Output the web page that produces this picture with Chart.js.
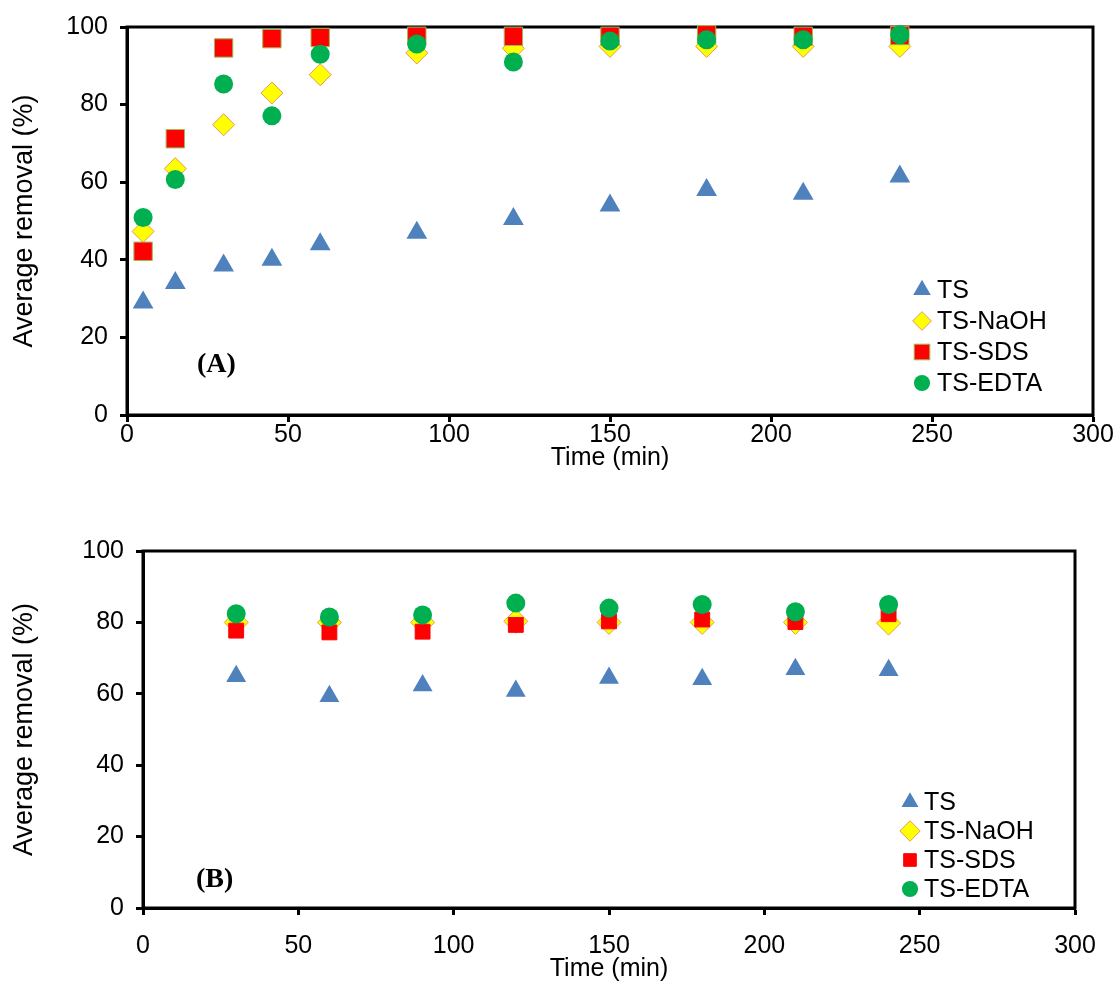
<!DOCTYPE html>
<html>
<head>
<meta charset="utf-8">
<script src="https://cdn.jsdelivr.net/npm/chart.js@4.4.1/dist/chart.umd.min.js"></script>
<style>
  body { margin: 0; background: #fff; }
  #wrap { position: relative; width: 1117px; height: 984px; }
  canvas { position: absolute; left: 0; }
  #chartA { top: 0; }
  #chartB { top: 500px; }
</style>
</head>
<body>
<div id="wrap">
  <canvas id="chartA" width="1117" height="500"></canvas>
  <canvas id="chartB" width="1117" height="484"></canvas>
</div>
<script>
// panel (A)
const timesA = [5, 15, 30, 45, 60, 90, 120, 150, 180, 210, 240];
const tsA    = [29, 34, 38.5, 40, 44, 47, 50.5, 54, 58, 57, 61.5];
const naohA  = [47.3, 63.5, 74.8, 83, 87.7, 93.3, 94.5, 95, 95, 95, 95];
const sdsA   = [42.2, 71.2, 94.6, 97, 97.3, 97.6, 97.6, 97.6, 98, 97.6, 97.8];
const edtaA  = [50.9, 60.7, 85.3, 77.1, 93, 95.6, 91, 96.4, 96.7, 96.7, 98];

// panel (B)
const timesB = [30, 60, 90, 120, 150, 180, 210, 240];
const tsB    = [64.9, 59.3, 62.3, 60.8, 64.4, 64.1, 66.9, 66.6];
const naohB  = [80, 80, 80, 80.3, 80, 80, 80, 79.8];
const sdsB   = [77.7, 77.2, 77.4, 79.3, 80.3, 80.8, 80.1, 82.3];
const edtaB  = [82.4, 81.5, 82.1, 85.4, 84, 85, 83, 85];

const seriesNames = ['TS', 'TS-NaOH', 'TS-SDS', 'TS-EDTA'];
const xTicks = [0, 50, 100, 150, 200, 250, 300];
const yTicks = [0, 20, 40, 60, 80, 100];

const SANS = "'Liberation Sans', Arial, sans-serif";

const toPoints = (xs, ys) => xs.map((x, i) => ({ x: x, y: ys[i] }));

function makeDatasets(xs, ys, sizes, sdsBorder) {
  const styles = [
    { pointStyle: 'triangle', bg: '#4F81BD', border: '#4F81BD', bw: 0, r: sizes[0], order: 4 },
    { pointStyle: 'rectRot', bg: '#FFFF00', border: '#E39A5A', bw: 1, r: sizes[1], order: 3 },
    { pointStyle: 'rect', bg: '#FF0000', border: sdsBorder, bw: 1, r: sizes[2], order: 2 },
    { pointStyle: 'circle', bg: '#00B050', border: '#00B050', bw: 0, r: sizes[3], order: 1 }
  ];
  return styles.map((s, i) => ({
    label: seriesNames[i],
    data: toPoints(xs, ys[i]),
    pointStyle: s.pointStyle,
    backgroundColor: s.bg,
    borderColor: s.border,
    pointBorderWidth: s.bw,
    pointRadius: s.r,
    pointHoverRadius: s.r,
    showLine: false,
    clip: false,
    order: s.order
  }));
}

// frame round the plot, panel tag and in-plot legend
const panelDecor = {
  id: 'panelDecor',
  beforeDatasetsDraw(chart, args, opts) {
    const { ctx, chartArea: a } = chart;
    ctx.save();
    ctx.strokeStyle = '#000';
    ctx.lineWidth = 3;
    ctx.strokeRect(a.left, a.top, a.right - a.left, a.bottom - a.top);
    ctx.restore();
  },
  afterDatasetsDraw(chart, args, opts) {
    const { ctx, chartArea: a } = chart;
    ctx.save();
    ctx.fillStyle = '#000';
    ctx.textBaseline = 'middle';
    ctx.textAlign = 'left';
    ctx.font = 'bold 28px "Liberation Serif", "Times New Roman", serif';
    ctx.fillText(opts.tag, a.left + opts.tagX, a.bottom - opts.tagY);

    ctx.font = '25px ' + SANS;
    chart.data.datasets.forEach((ds, i) => {
      const mx = a.left + opts.legendX;
      const my = a.bottom - opts.legendY + i * opts.rowGap;
      ctx.fillStyle = ds.backgroundColor;
      ctx.strokeStyle = ds.borderColor;
      ctx.lineWidth = ds.pointBorderWidth;
      Chart.helpers.drawPoint(ctx, {
        pointStyle: ds.pointStyle,
        radius: ds.pointRadius * 0.85,
        rotation: 0,
        borderWidth: ds.pointBorderWidth
      }, mx, my);
      ctx.fillStyle = '#000';
      ctx.fillText(ds.label, mx + opts.textGap, my + 1);
    });
    ctx.restore();
  }
};

function makeScales(layout) {
  const tickStyle = { color: '#000', font: { family: SANS, size: 25 } };
  const grid = { drawOnChartArea: false, drawTicks: true, tickLength: 7, tickWidth: 3, tickColor: '#000' };
  const border = { display: true, color: '#000', width: 3 };
  return {
    x: {
      type: 'linear',
      min: 0,
      max: 300,
      afterBuildTicks: (s) => { s.ticks = xTicks.map(v => ({ value: v })); },
      afterFit: (s) => { s.height = layout.xHeight; },
      ticks: Object.assign({ padding: layout.xTickPad, maxRotation: 0 }, tickStyle),
      grid: grid,
      border: border,
      title: { display: true, text: 'Time (min)', color: '#000', font: { family: SANS, size: 25 }, padding: { top: 0, bottom: layout.xTitlePad } }
    },
    y: {
      type: 'linear',
      min: 0,
      max: 100,
      afterBuildTicks: (s) => { s.ticks = yTicks.map(v => ({ value: v })); },
      afterFit: (s) => { s.width = layout.yWidth; },
      ticks: Object.assign({ padding: 12 }, tickStyle),
      grid: grid,
      border: border,
      title: { display: true, text: 'Average removal (%)', color: '#000', font: { family: SANS, size: 27 }, padding: { top: 8, bottom: 0 } }
    }
  };
}

function makeChart(id, xs, ys, sizes, sdsBorder, layout, decor) {
  return new Chart(document.getElementById(id).getContext('2d'), {
    type: 'scatter',
    data: { datasets: makeDatasets(xs, ys, sizes, sdsBorder) },
    options: {
      responsive: false,
      animation: false,
      devicePixelRatio: 1,
      layout: { padding: layout.padding },
      scales: makeScales(layout),
      plugins: {
        legend: { display: false },
        tooltip: { enabled: false },
        panelDecor: decor
      }
    },
    plugins: [panelDecor]
  });
}

makeChart('chartA', timesA, [tsA, naohA, sdsA, edtaA], [12, 11, 13, 9.5], '#9BBB59',
  { padding: { top: 26, right: 24, bottom: 0, left: 0 }, yWidth: 127, xHeight: 85, xTickPad: -2, xTitlePad: 27 },
  { tag: '(A)', tagX: 70, tagY: 50, legendX: 795, legendY: 125, rowGap: 31, textGap: 15 });

makeChart('chartB', timesB, [tsB, naohB, sdsB, edtaB], [11.5, 12, 10.5, 9.5], '#FF0000',
  { padding: { top: 51, right: 42, bottom: 0, left: 0 }, yWidth: 143, xHeight: 76, xTickPad: 16, xTitlePad: 0 },
  { tag: '(B)', tagX: 53, tagY: 28, legendX: 767, legendY: 106, rowGap: 29, textGap: 14 });
</script>
</body>
</html>
